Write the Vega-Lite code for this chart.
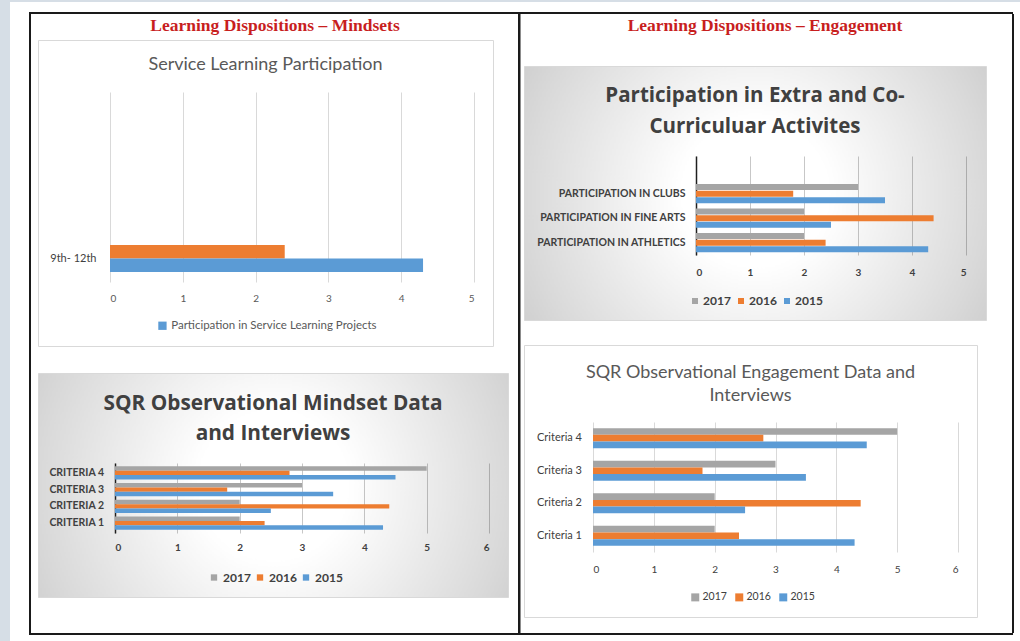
{
  "$schema": "https://vega.github.io/schema/vega-lite/v6.json",
  "padding": 0,
  "background": "#ffffff",
  "config": {"font": "Lato", "view": {"stroke": null, "strokeWidth": 0}, "concat": {"spacing": 0}},
  "datasets": {
    "service": [
      {"grade": "9th- 12th", "series": "Series 2", "value": 2.4},
      {"grade": "9th- 12th", "series": "Participation in Service Learning Projects", "value": 4.3}
    ],
    "extra": [
      {"activity": "PARTICIPATION IN CLUBS", "year": "2017", "value": 3},
      {"activity": "PARTICIPATION IN CLUBS", "year": "2016", "value": 1.8},
      {"activity": "PARTICIPATION IN CLUBS", "year": "2015", "value": 3.5},
      {"activity": "PARTICIPATION IN FINE ARTS", "year": "2017", "value": 2},
      {"activity": "PARTICIPATION IN FINE ARTS", "year": "2016", "value": 4.4},
      {"activity": "PARTICIPATION IN FINE ARTS", "year": "2015", "value": 2.5},
      {"activity": "PARTICIPATION IN ATHLETICS", "year": "2017", "value": 2},
      {"activity": "PARTICIPATION IN ATHLETICS", "year": "2016", "value": 2.4},
      {"activity": "PARTICIPATION IN ATHLETICS", "year": "2015", "value": 4.3}
    ],
    "sqr": [
      {"criteria": "Criteria 4", "year": "2017", "value": 5},
      {"criteria": "Criteria 4", "year": "2016", "value": 2.8},
      {"criteria": "Criteria 4", "year": "2015", "value": 4.5},
      {"criteria": "Criteria 3", "year": "2017", "value": 3},
      {"criteria": "Criteria 3", "year": "2016", "value": 1.8},
      {"criteria": "Criteria 3", "year": "2015", "value": 3.5},
      {"criteria": "Criteria 2", "year": "2017", "value": 2},
      {"criteria": "Criteria 2", "year": "2016", "value": 4.4},
      {"criteria": "Criteria 2", "year": "2015", "value": 2.5},
      {"criteria": "Criteria 1", "year": "2017", "value": 2},
      {"criteria": "Criteria 1", "year": "2016", "value": 2.4},
      {"criteria": "Criteria 1", "year": "2015", "value": 4.3}
    ]
  },
  "spacing": 0,
  "resolve": {"scale": {"color": "independent", "yOffset": "independent", "x": "independent", "y": "independent"}, "legend": {"color": "independent"}},
  "vconcat": [
    {"width": 1020, "height": 2, "view": {"fill": "#d6dee6"}, "data": {"values": []}, "mark": "point", "encoding": {}},
    {
      "spacing": 0,
      "resolve": {"scale": {"color": "independent", "yOffset": "independent", "x": "independent", "y": "independent"}, "legend": {"color": "independent"}},
      "hconcat": [
        {"width": 10, "height": 639, "view": {"fill": "#d6dee6"}, "data": {"values": []}, "mark": "point", "encoding": {}},
        {"width": 19, "height": 10, "data": {"values": []}, "mark": "point", "encoding": {}},
        {
          "spacing": 0,
          "resolve": {"scale": {"color": "independent", "yOffset": "independent", "x": "independent", "y": "independent"}, "legend": {"color": "independent"}},
          "vconcat": [
            {"width": 984, "height": 10, "data": {"values": []}, "mark": "point", "encoding": {}},
            {"width": 984, "height": 2, "view": {"fill": "#1a1a1a"}, "data": {"values": []}, "mark": "point", "encoding": {}},
            {
              "spacing": 0,
              "resolve": {"scale": {"color": "independent", "yOffset": "independent", "x": "independent", "y": "independent"}, "legend": {"color": "independent"}},
              "hconcat": [
                {"width": 2, "height": 619, "view": {"fill": "#1a1a1a"}, "data": {"values": []}, "mark": "point", "encoding": {}},
                {"width": 6, "height": 619, "data": {"values": []}, "mark": "point", "encoding": {}},
                {
                  "spacing": 0,
                  "bounds": "flush",
                  "resolve": {"scale": {"color": "independent", "yOffset": "independent", "x": "independent", "y": "independent"}, "legend": {"color": "independent"}},
                  "vconcat": [
                    {
                      "width": 470, "height": 26,
                      "title": {"text": "Learning Dispositions – Mindsets", "font": "Liberation Serif", "fontSize": 17.5, "fontWeight": "bold", "color": "#c81e1e", "anchor": "middle", "frame": "group", "offset": -20, "dx": 2},
                      "data": {"values": []}, "mark": "point", "encoding": {}
                    },
                    {
                      "width": 455, "height": 306,
                      "view": {"fill": "#ffffff", "stroke": "#d9d9d9", "strokeWidth": 1},
                      "title": {"text": "Service Learning Participation", "fontSize": 18, "fontWeight": "normal", "color": "#595959", "anchor": "middle", "frame": "group", "offset": -34},
                      "data": {"name": "service"},
                      "mark": {"type": "bar"},
                      "encoding": {
                        "y": {"field": "grade", "type": "nominal", "scale": {"range": [52, 242], "paddingInner": 0.669, "paddingOuter": 1, "align": 0.939}, "axis": {"title": null, "offset": -72, "domain": false, "ticks": false, "labelPadding": 14, "labelFontSize": 11, "labelColor": "#404040"}},
                        "yOffset": {"field": "series", "type": "nominal", "scale": {"domain": ["Series 2", "Participation in Service Learning Projects"], "paddingInner": 0, "paddingOuter": 0}},
                        "x": {"field": "value", "type": "quantitative", "scale": {"domain": [0, 5], "range": [72, 436], "nice": false}, "axis": {"title": null, "orient": "top", "values": [0, 1, 2, 3, 4, 5], "offset": -258, "domain": false, "ticks": false, "grid": true, "gridColor": "#d9d9d9", "labelPadding": 0, "labelBaseline": "middle", "labelFontSize": 10, "labelColor": "#595959"}},
                        "color": {"field": "series", "type": "nominal", "scale": {"domain": ["Participation in Service Learning Projects", "Series 2"], "range": ["#5B9BD5", "#ED7D31"]}, "legend": {"values": ["Participation in Service Learning Projects"], "orient": "none", "legendX": 118.7, "legendY": 280, "title": null, "symbolType": "square", "symbolSize": 69, "symbolStrokeWidth": 0, "labelFontSize": 11.5, "labelColor": "#595959", "labelOffset": 3, "labelLimit": 400}}
                      }
                    },
                    {"width": 10, "height": 27, "data": {"values": []}, "mark": "point", "encoding": {}},
                    {
                      "width": 470, "height": 224,
                      "view": {"fill": {"gradient": "radial", "x1": 0.5, "y1": 0.5, "r1": 0, "x2": 0.5, "y2": 0.5, "r2": 0.72, "stops": [{"offset": 0, "color": "#ffffff"}, {"offset": 0.22, "color": "#ffffff"}, {"offset": 0.69, "color": "#d9d9d9"}, {"offset": 1, "color": "#bdbdbd"}]}, "stroke": "#d9d9d9", "strokeWidth": 1},
                      "title": {"text": ["SQR Observational Mindset Data", "and Interviews"], "font": "Open Sans", "fontSize": 20.8, "fontWeight": "bold", "color": "#404040", "lineHeight": 30, "anchor": "middle", "frame": "group", "offset": -71.7},
                      "data": {"name": "sqr"},
                      "mark": {"type": "bar"},
                      "encoding": {
                        "y": {"field": "criteria", "type": "nominal", "scale": {"domain": ["Criteria 4", "Criteria 3", "Criteria 2", "Criteria 1"], "range": [90, 160], "paddingInner": 0.22, "paddingOuter": 0.2}, "axis": {"title": null, "offset": -77, "labelExpr": "upper(datum.label)", "domain": true, "domainColor": "#1f1f1f", "domainWidth": 1.5, "ticks": false, "labelPadding": 11.5, "labelFontSize": 10.5, "labelFontWeight": "bold", "labelColor": "#404040"}},
                        "yOffset": {"field": "year", "type": "nominal", "scale": {"domain": ["2017", "2016", "2015"], "paddingInner": 0, "paddingOuter": 0}},
                        "x": {"field": "value", "type": "quantitative", "scale": {"domain": [0, 6], "range": [77, 451], "nice": false}, "axis": {"title": null, "orient": "top", "values": [0, 1, 2, 3, 4, 5, 6], "offset": -174.3, "domain": false, "ticks": false, "grid": true, "gridColor": "#000000", "gridOpacity": 0.22, "labelPadding": 0, "labelBaseline": "middle", "labelFontSize": 10, "labelFontWeight": "bold", "labelColor": "#404040"}},
                        "color": {"field": "year", "type": "nominal", "scale": {"domain": ["2017", "2016", "2015"], "range": ["#A5A5A5", "#ED7D31", "#5B9BD5"]}, "legend": {"orient": "none", "legendX": 170, "legendY": 198.5, "direction": "horizontal", "title": null, "symbolType": "square", "symbolSize": 40, "symbolStrokeWidth": 0, "labelFontSize": 12, "labelFontWeight": "bold", "labelColor": "#404040", "labelOffset": 3, "columnPadding": 3}}
                      }
                    }
                  ]
                },
                {"width": 8.5, "height": 619, "data": {"values": []}, "mark": "point", "encoding": {}},
                {"width": 2.5, "height": 619, "view": {"fill": "#1a1a1a"}, "data": {"values": []}, "mark": "point", "encoding": {}},
                {"width": 2, "height": 619, "data": {"values": []}, "mark": "point", "encoding": {}},
                {
                  "spacing": 0,
                  "bounds": "flush",
                  "resolve": {"scale": {"color": "independent", "yOffset": "independent", "x": "independent", "y": "independent"}, "legend": {"color": "independent"}},
                  "vconcat": [
                    {
                      "width": 462, "height": 52,
                      "title": {"text": "Learning Dispositions – Engagement", "font": "Liberation Serif", "fontSize": 17.5, "fontWeight": "bold", "color": "#c81e1e", "anchor": "middle", "frame": "group", "offset": -20, "dx": 10},
                      "data": {"values": []}, "mark": "point", "encoding": {}
                    },
                    {
                      "width": 462, "height": 254,
                      "view": {"fill": {"gradient": "radial", "x1": 0.5, "y1": 0.5, "r1": 0, "x2": 0.5, "y2": 0.5, "r2": 0.72, "stops": [{"offset": 0, "color": "#ffffff"}, {"offset": 0.22, "color": "#ffffff"}, {"offset": 0.69, "color": "#d9d9d9"}, {"offset": 1, "color": "#bdbdbd"}]}, "stroke": "#d9d9d9", "strokeWidth": 1},
                      "title": {"text": ["Participation in Extra and Co-", "Curriculuar Activites"], "font": "Open Sans", "fontSize": 20.5, "fontWeight": "bold", "color": "#404040", "lineHeight": 31, "anchor": "middle", "frame": "group", "offset": -71},
                      "data": {"name": "extra"},
                      "mark": {"type": "bar"},
                      "encoding": {
                        "y": {"field": "activity", "type": "nominal", "scale": {"domain": ["PARTICIPATION IN CLUBS", "PARTICIPATION IN FINE ARTS", "PARTICIPATION IN ATHLETICS"], "range": [90, 189], "paddingInner": 0.21, "paddingOuter": 0.625, "align": 0.914}, "axis": {"title": null, "offset": -172, "domain": true, "domainColor": "#1f1f1f", "domainWidth": 1.5, "ticks": false, "labelPadding": 11, "labelFontSize": 10.5, "labelFontWeight": "bold", "labelColor": "#404040", "labelLimit": 200}},
                        "yOffset": {"field": "year", "type": "nominal", "scale": {"domain": ["2017", "2016", "2015"], "paddingInner": 0.08, "paddingOuter": 0}},
                        "x": {"field": "value", "type": "quantitative", "scale": {"domain": [0, 5], "range": [172, 442], "nice": false}, "axis": {"title": null, "orient": "top", "values": [0, 1, 2, 3, 4, 5], "offset": -206, "domain": false, "ticks": false, "grid": true, "gridColor": "#000000", "gridOpacity": 0.22, "labelPadding": 0, "labelBaseline": "middle", "labelFontSize": 10, "labelFontWeight": "bold", "labelColor": "#404040"}},
                        "color": {"field": "year", "type": "nominal", "scale": {"domain": ["2017", "2016", "2015"], "range": ["#A5A5A5", "#ED7D31", "#5B9BD5"]}, "legend": {"orient": "none", "legendX": 165, "legendY": 229, "direction": "horizontal", "title": null, "symbolType": "square", "symbolSize": 36, "symbolStrokeWidth": 0, "labelFontSize": 12, "labelFontWeight": "bold", "labelColor": "#404040", "labelOffset": 2, "columnPadding": 4}}
                      }
                    },
                    {"width": 10, "height": 25, "data": {"values": []}, "mark": "point", "encoding": {}},
                    {
                      "width": 453, "height": 272,
                      "view": {"fill": "#ffffff", "stroke": "#d9d9d9", "strokeWidth": 1},
                      "title": {"text": ["SQR Observational Engagement Data and", "Interviews"], "fontSize": 18, "fontWeight": "normal", "color": "#595959", "lineHeight": 23.5, "anchor": "middle", "frame": "group", "offset": -60},
                      "data": {"name": "sqr"},
                      "mark": {"type": "bar"},
                      "encoding": {
                        "y": {"field": "criteria", "type": "nominal", "scale": {"domain": ["Criteria 4", "Criteria 3", "Criteria 2", "Criteria 1"], "range": [77, 207], "paddingInner": 0.385, "paddingOuter": 0.19}, "axis": {"title": null, "offset": -69, "domain": false, "ticks": false, "labelPadding": 11.5, "labelFontSize": 11, "labelColor": "#404040"}},
                        "yOffset": {"field": "year", "type": "nominal", "scale": {"domain": ["2017", "2016", "2015"], "paddingInner": 0, "paddingOuter": 0}},
                        "x": {"field": "value", "type": "quantitative", "scale": {"domain": [0, 6], "range": [69, 434], "nice": false}, "axis": {"title": null, "orient": "top", "values": [0, 1, 2, 3, 4, 5, 6], "offset": -224.3, "domain": false, "ticks": false, "grid": true, "gridColor": "#d9d9d9", "labelPadding": 0, "labelBaseline": "middle", "labelFontSize": 10, "labelColor": "#404040"}},
                        "color": {"field": "year", "type": "nominal", "scale": {"domain": ["2017", "2016", "2015"], "range": ["#A5A5A5", "#ED7D31", "#5B9BD5"]}, "legend": {"orient": "none", "legendX": 166, "legendY": 247, "direction": "horizontal", "title": null, "symbolType": "square", "symbolSize": 64, "symbolStrokeWidth": 0, "labelFontSize": 10.5, "labelColor": "#404040", "labelOffset": 2, "columnPadding": 7}}
                      }
                    }
                  ]
                },
                {"width": 25, "height": 619, "data": {"values": []}, "mark": "point", "encoding": {}},
                {"width": 2, "height": 619, "view": {"fill": "#1a1a1a"}, "data": {"values": []}, "mark": "point", "encoding": {}}
              ]
            },
            {"width": 984, "height": 2, "view": {"fill": "#1a1a1a"}, "data": {"values": []}, "mark": "point", "encoding": {}}
          ]
        }
      ]
    }
  ]
}
